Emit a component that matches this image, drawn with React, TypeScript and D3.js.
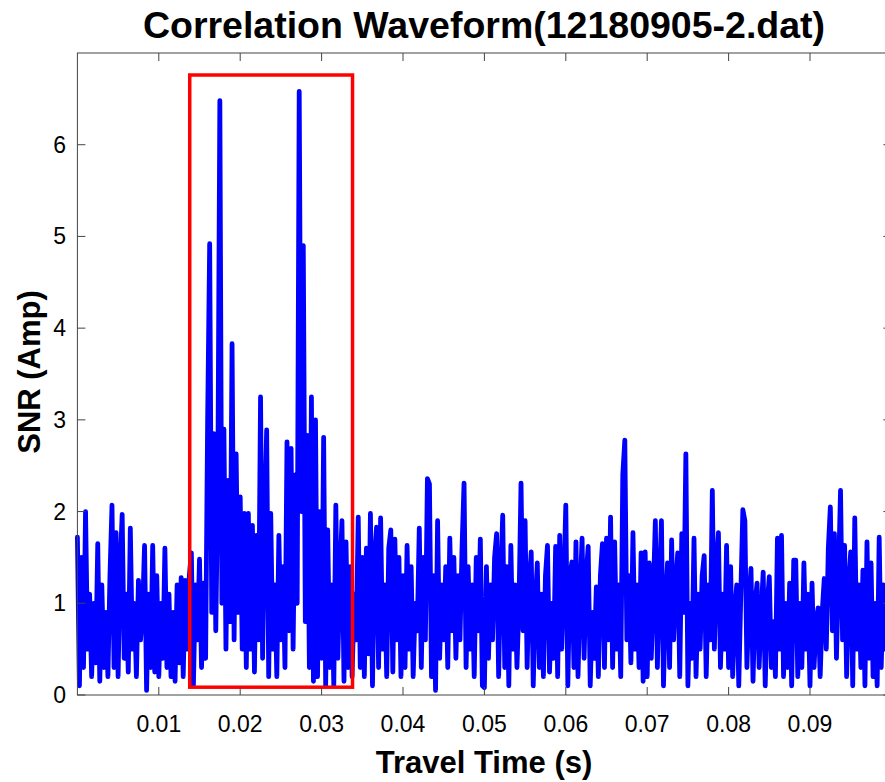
import React from "react";
import * as d3 from "d3";

// SNR values, one segment per 0.01 s (sample step 0.00025 s)
const seg0 = [1.72,0.1,1.5,0.3,2.0,0.5,1.1,0.2,1.0,0.35,1.65,0.15,1.2,0.3,0.9,0.2,1.3,2.07,0.3,1.77,0.2,1.4,1.97,0.4,1.1,0.25,1.82,0.5,1.0,0.2,1.25,0.6,0.9,1.63,0.05,1.1,0.3,1.63,0.25,1.3];
const seg1 = [0.2,1.0,0.4,1.6,0.3,1.1,0.2,0.9,0.15,1.2,0.35,1.28,0.2,1.25,0.5,1.3,1.55,0.1,1.2,0.6,1.48,0.3,1.22,0.4,3.0,4.92,0.9,2.85,0.7,2.3,6.48,1.0,2.9,0.5,2.34,0.8,3.83,0.6,2.63,0.9];
const seg2 = [2.16,0.5,1.98,0.3,1.98,0.5,1.85,0.25,1.74,0.6,3.25,0.4,1.9,2.89,0.2,1.98,0.5,1.2,0.2,1.74,0.6,1.4,0.3,2.76,0.7,2.69,0.5,2.4,1.0,6.58,2.0,4.9,0.8,2.83,0.3,3.25,0.15,3.0,0.2,2.0];
const seg3 = [0.4,2.81,0.1,1.8,0.3,1.2,0.1,2.07,0.4,1.3,1.9,0.15,1.67,0.3,1.4,0.2,1.1,0.6,1.94,0.3,1.5,0.2,1.6,0.45,1.98,0.1,1.5,1.83,0.3,1.93,0.5,1.2,0.2,1.6,1.8,0.25,1.7,0.6,1.5,0.2];
const seg4 = [1.3,0.3,1.63,0.5,1.4,0.2,1.0,0.7,1.82,0.3,1.5,0.6,2.36,2.3,0.2,1.3,0.05,1.9,0.4,1.2,0.6,1.4,0.3,1.71,0.7,1.5,0.4,1.3,0.6,1.6,2.31,0.3,1.4,0.5,1.2,0.2,1.5,0.7,1.7,0.1];
const seg5 = [0.08,1.4,0.4,1.2,0.6,1.5,1.76,0.2,1.3,1.96,0.3,1.4,0.1,1.63,0.5,1.2,0.3,1.0,2.31,0.7,1.9,0.3,1.2,1.56,0.1,1.0,1.44,0.3,1.1,0.2,1.3,1.63,0.25,1.0,0.4,1.62,0.2,1.74,0.5,1.2];
const seg6 = [2.07,0.1,1.3,1.45,0.3,1.67,0.2,1.1,1.71,0.4,1.3,1.62,0.1,0.9,0.4,1.18,0.2,1.3,1.65,0.3,1.71,0.6,1.94,0.3,1.67,0.5,1.2,0.2,2.4,2.78,0.6,1.3,0.35,1.77,0.5,1.2,0.3,1.55,0.15,1.56];
const seg7 = [0.2,1.44,0.4,1.1,1.9,0.3,1.2,1.9,0.1,1.0,1.44,0.3,1.69,0.6,1.2,1.55,0.2,1.76,0.9,2.63,0.1,1.0,0.4,1.71,0.2,1.1,0.5,1.3,1.52,0.2,1.2,0.6,2.23,0.5,1.4,1.77,0.3,1.1,0.5,1.63];
const seg8 = [0.3,1.4,0.2,0.9,1.2,0.1,1.1,2.02,1.9,0.3,1.0,1.38,0.15,1.0,1.22,0.3,0.9,1.34,0.1,1.0,1.29,0.3,0.8,0.2,1.71,0.5,1.74,0.2,1.0,0.3,1.22,0.1,1.47,1.47,0.2,1.0,0.3,1.44,0.5,1.1];
const seg9 = [0.1,1.22,0.3,0.8,0.95,0.2,0.9,1.27,0.5,1.6,2.05,0.7,1.76,0.4,1.3,2.23,0.6,1.63,0.2,1.2,1.56,0.1,1.93,0.5,1.2,0.3,1.36,0.1,1.67,0.4,1.44,0.2,1.0,0.1,1.72,0.3,1.2,0.5,1.0,0.6];

const sampleStep = 0.00025;
const xTicks = [0.01, 0.02, 0.03, 0.04, 0.05, 0.06, 0.07, 0.08, 0.09];
const yTicks = [0, 1, 2, 3, 4, 5, 6];
const xDomain = [0, 0.1];
const yDomain = [0, 7];
// highlighted window (data units)
const boxX = [0.0138, 0.0338];
const boxY = [0.085, 6.76];

const W = 885;
const H = 782;
const left = 77.4, right = 891.4, top = 53, bottom = 695;

export default function App() {
  const values = [...seg0, ...seg1, ...seg2, ...seg3, ...seg4, ...seg5, ...seg6, ...seg7, ...seg8, ...seg9];
  const data = values.map((v, i) => ({ t: i * sampleStep, v }));
  const x = d3.scaleLinear().domain(xDomain).range([left, right]);
  const y = d3.scaleLinear().domain(yDomain).range([bottom, top]);
  const line = d3.line<{ t: number; v: number }>().x(d => x(d.t)).y(d => y(d.v));
  const axisColor = "#444";
  const tickLen = 8;
  const font = "'Liberation Sans', Arial, sans-serif";
  return (
    <svg width={W} height={H} style={{ position: "absolute", left: 0, top: 0, background: "#fff" }} fontFamily={font}>
      <rect x={0} y={0} width={W} height={H} fill="#fff" />
      <text x={484} y={38} textAnchor="middle" fontSize={37.5} fontWeight="bold" fill="#000">Correlation Waveform(12180905-2.dat)</text>
      <path d={line(data) || ""} fill="none" stroke="#0000ff" strokeWidth={4.8} strokeLinejoin="round" strokeLinecap="round" />
      <rect x={x(boxX[0])} y={y(boxY[1])} width={x(boxX[1]) - x(boxX[0])} height={y(boxY[0]) - y(boxY[1])} fill="none" stroke="#ff0000" strokeWidth={3.5} />
      {/* axes box */}
      <rect x={left} y={top} width={right - left} height={bottom - top} fill="none" stroke={axisColor} strokeWidth={1} />
      {xTicks.map(t => (
        <g key={"x" + t}>
          <line x1={x(t)} x2={x(t)} y1={bottom} y2={bottom - tickLen} stroke={axisColor} />
          <line x1={x(t)} x2={x(t)} y1={top} y2={top + tickLen} stroke={axisColor} />
          <text x={x(t)} y={732} textAnchor="middle" fontSize={23} fill="#000">{d3.format(".2f")(t)}</text>
        </g>
      ))}
      {yTicks.map(v => (
        <g key={"y" + v}>
          <line x1={left} x2={left + tickLen} y1={y(v)} y2={y(v)} stroke={axisColor} />
          <line x1={right} x2={right - tickLen} y1={y(v)} y2={y(v)} stroke={axisColor} />
          <text x={66} y={y(v) + 8} textAnchor="end" fontSize={23} fill="#000">{v}</text>
        </g>
      ))}
      <text x={484} y={773} textAnchor="middle" fontSize={31} fontWeight="bold" fill="#000">Travel Time (s)</text>
      <text transform={`translate(40,372) rotate(-90)`} textAnchor="middle" fontSize={31} fontWeight="bold" fill="#000">SNR (Amp)</text>
    </svg>
  );
}
